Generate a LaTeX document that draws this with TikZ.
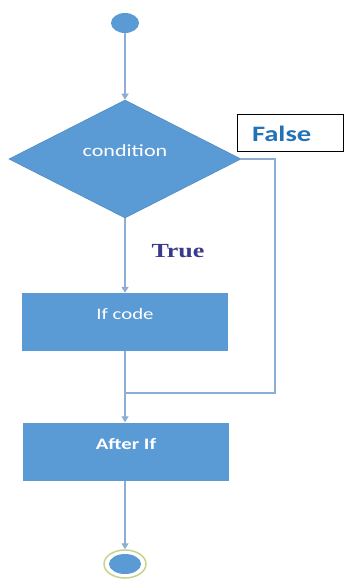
\documentclass[tikz,border=0pt]{standalone}
\usepackage{fontspec}
\usetikzlibrary{shapes.geometric,arrows.meta}

\newfontfamily\calfont[FakeStretch=1.3]{Carlito}
\newfontfamily\timesfont[FakeStretch=1.3]{Liberation Serif}

\definecolor{flowblue}{HTML}{5B9BD5}
\definecolor{lineblue}{HTML}{8EADD4}
\definecolor{falseblue}{HTML}{2372B5}
\definecolor{trueblue}{HTML}{3A3A8C}
\definecolor{ringgreen}{HTML}{C5D38C}

\begin{document}
\begin{tikzpicture}[x=1pt, y=-1pt,
        flow/.style={draw=lineblue, line width=1.3pt, -{Triangle[width=7pt,length=6pt]}},
        plain/.style={draw=lineblue, line width=1.3pt},
        block/.style={rectangle, fill=flowblue, minimum width=206pt, minimum height=58pt,
            inner sep=0pt, text=white, font=\calfont\fontsize{16}{18}\selectfont,
            text height=12pt, text depth=17pt},
        decision/.style={diamond, fill=flowblue, draw=flowblue!90!black, line width=0.6pt,
            minimum width=232pt, minimum height=118pt, inner sep=0pt, text=white,
            font=\calfont\fontsize{17}{19}\selectfont, text height=12pt, text depth=16pt},
        startdot/.style={ellipse, fill=flowblue, minimum width=28pt, minimum height=20pt, inner sep=0pt},
        stopdot/.style={ellipse, draw=ringgreen, line width=1.5pt, minimum width=42pt,
            minimum height=28pt, inner sep=0pt,
            path picture={\fill[flowblue] (path picture bounding box.center) ellipse (16pt and 10pt);}},
        falsebox/.style={rectangle, draw=black, line width=1pt, fill=white, text=falseblue,
            font=\calfont\bfseries\fontsize{22}{24}\selectfont, minimum height=37pt,
            text width=76pt, inner xsep=15pt, inner ysep=0pt, align=left},
        truetext/.style={text=trueblue, font=\timesfont\bfseries\fontsize{20}{22}\selectfont, inner sep=0pt}
    ]
        \useasboundingbox (0,0) rectangle (345,580);

        % nodes
        \node[startdot] (start) at (125,23) {};
        \node[decision] (cond) at (125,159) {condition};
        \node[falsebox] (falselbl) at (290,133.5) {False};
        \node[truetext] (truelbl) at (178,251) {True};
        \node[block] (ifcode) at (125,322) {If code};
        \node[block, font=\calfont\bfseries\fontsize{16}{18}\selectfont] (after) at (126,451.5) {After If};
        \node[stopdot] (stop) at (125,564) {};

        \coordinate (turn) at (275,159);
        \coordinate (join) at (125,393);

        % connectors
        \draw[flow] (start) -- (cond);
        \draw[flow] (cond) -- (ifcode);
        \draw[flow] (ifcode) -- (after.north -| ifcode);
        \draw[flow] (after.south -| stop) -- (stop);
        \draw[plain] (cond.east) -- (turn) |- (join);
    \end{tikzpicture}
\end{document}
